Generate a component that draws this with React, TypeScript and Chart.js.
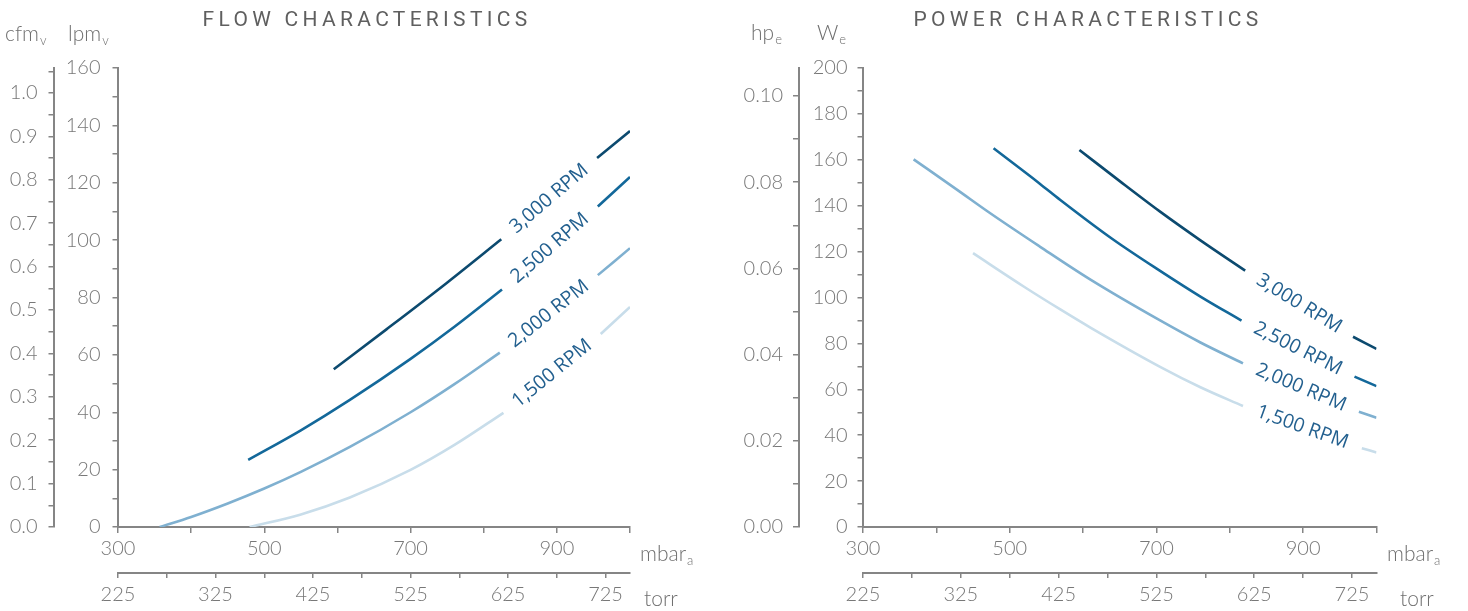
import React, { useEffect, useRef } from 'react';
import { Chart, registerables } from 'chart.js';

Chart.register(...registerables);

// ---------- shared axis data ----------
const MBAR_PER_TORR = 1.33322;
const MBAR_MIN = 300;
const MBAR_MAX = 1000;
const MBAR_TICKS = [300, 400, 500, 600, 700, 800, 900, 1000];
const MBAR_LABELS = [300, 500, 700, 900];
const TORR_TICKS = [225, 275, 325, 375, 425, 475, 525, 575, 625, 675, 725];
const TORR_LABELS = [225, 325, 425, 525, 625, 725];

const RPM_LABELS = ['3,000 RPM', '2,500 RPM', '2,000 RPM', '1,500 RPM'];
const RPM_COLORS = ['#0c4a6f', '#13689a', '#7fb0d0', '#c8ddea'];

// ---------- flow chart ----------
const LPM_TICKS = [0, 10, 20, 30, 40, 50, 60, 70, 80, 90, 100, 110, 120, 130, 140, 150, 160];
const LPM_LABELS = [0, 20, 40, 60, 80, 100, 120, 140, 160];
const CFM_TICKS = [0, 0.05, 0.1, 0.15, 0.2, 0.25, 0.3, 0.35, 0.4, 0.45, 0.5, 0.55, 0.6, 0.65, 0.7, 0.75, 0.8, 0.85, 0.9, 0.95, 1.0, 1.05];
const CFM_LABELS = ['0.0', '0.1', '0.2', '0.3', '0.4', '0.5', '0.6', '0.7', '0.8', '0.9', '1.0'];
const LPM_MAX = 160;
const LPM_PER_CFM_AXIS = 151.3;

const FLOW_MBAR_3000 = [595, 667, 749, 824, 890, 955, 1000];
const FLOW_LPM_3000 = [55, 68.9, 85, 100.3, null, 128.6, 138];
const FLOW_MBAR_2500 = [478, 550, 617, 700, 760, 825, 890, 956, 1000];
const FLOW_LPM_2500 = [23.4, 33.7, 44.3, 58.6, 69.8, 82.8, null, 111.7, 122];
const FLOW_MBAR_2000 = [357, 400, 450, 500, 550, 617, 700, 760, 822, 890, 956, 1000];
const FLOW_LPM_2000 = [0, 3.5, 8.2, 13.4, 19.2, 27.9, 40, 49.8, 60.8, null, 87.8, 97.2];
const FLOW_MBAR_1500 = [480, 549, 617, 700, 760, 827, 890, 960, 1000];
const FLOW_LPM_1500 = [0, 4.3, 10.3, 19.9, 28.6, 39.8, null, 67.3, 76.7];

// ---------- power chart ----------
const W_TICKS = [0, 10, 20, 30, 40, 50, 60, 70, 80, 90, 100, 110, 120, 130, 140, 150, 160, 170, 180, 190, 200];
const W_LABELS = [0, 20, 40, 60, 80, 100, 120, 140, 160, 180, 200];
const HP_TICKS = [0, 0.01, 0.02, 0.03, 0.04, 0.05, 0.06, 0.07, 0.08, 0.09, 0.1];
const HP_LABELS = ['0.00', '0.02', '0.04', '0.06', '0.08', '0.10'];
const W_MAX = 200;
const W_PER_HP_AXIS = 1878;

const POWER_MBAR_3000 = [595, 650, 705, 760, 821, 895, 968, 1000];
const POWER_W_3000 = [164.3, 150.7, 137.4, 124.9, 111.7, null, 82.9, 77.6];
const POWER_MBAR_2500 = [478, 541, 569, 640, 705, 760, 816, 893, 970, 1000];
const POWER_W_2500 = [165, 149.6, 142.5, 125.5, 111.6, 100.4, 89.9, null, 65.5, 61.4];
const POWER_MBAR_2000 = [369, 428, 473, 541, 609, 705, 760, 818, 897, 976, 1000];
const POWER_W_2000 = [160.2, 147, 136.8, 122.2, 108, 90, 80.4, 71.3, null, 50.2, 47.6];
const POWER_MBAR_1500 = [450, 519, 569, 610, 705, 760, 818, 899, 980, 1000];
const POWER_W_1500 = [119.3, 104.8, 94.8, 86.9, 69.8, 60.9, 52.7, null, 34.3, 32.5];

// ---------- styles ----------
const GRAY = '#858585';
const TEXT_GRAY = '#787878';
const LABEL_BLUE = '#23608f';
const TICK_FONT = { family: 'Lato', size: 20, weight: '300' as any };

const pair = (xs: number[], ys: (number | null)[]) => xs.map((x, i) => ({ x, y: ys[i] }));

const rpmLabelPlugin = {
  id: 'rpmLabels',
  afterDatasetsDraw(chart: any) {
    const ctx = chart.ctx;
    chart.data.datasets.forEach((ds: any, di: number) => {
      const gap = ds.data.findIndex((p: any) => p.y === null);
      if (gap < 1) return;
      const meta = chart.getDatasetMeta(di);
      const a = meta.data[gap - 1];
      const b = meta.data[gap + 1];
      const cx = (a.x + b.x) / 2;
      const cy = (a.y + b.y) / 2;
      const ang = Math.atan2(b.y - a.y, b.x - a.x);
      ctx.save();
      ctx.translate(cx, cy);
      ctx.rotate(ang);
      ctx.font = '19.5px "Open Sans"';
      ctx.fillStyle = LABEL_BLUE;
      ctx.textAlign = 'center';
      ctx.textBaseline = 'middle';
      ctx.fillText(ds.label, 0, 0);
      ctx.restore();
    });
  },
};

function makeDatasets(mbars: number[][], vals: (number | null)[][]) {
  return mbars.map((m, i) => ({
    label: RPM_LABELS[i],
    data: pair(m, vals[i]),
    borderColor: RPM_COLORS[i],
    backgroundColor: RPM_COLORS[i],
    borderWidth: 2.6,
    pointRadius: 0,
    cubicInterpolationMode: 'monotone' as const,
    spanGaps: false,
    xAxisID: 'x',
    yAxisID: 'y',
  }));
}

interface PanelOpts {
  datasets: any[];
  yMax: number;
  yTicks: number[];
  yLabels: number[];
  yWidth: number;
  yPad: number;
  y2Max: number;
  y2Ticks: number[];
  y2Labels: string[];
  y2Width: number;
  y2Pad: number;
  padRight: number;
}

function axisLook(tickLength: number) {
  return {
    grid: { drawOnChartArea: false, drawTicks: true, tickLength, color: GRAY, lineWidth: 1.5 },
    border: { display: true, color: GRAY, width: 2 },
  };
}

function buildConfig(o: PanelOpts): any {
  return {
    type: 'line',
    data: { datasets: o.datasets },
    options: {
      animation: false,
      responsive: false,
      events: [],
      layout: { padding: { left: 0, top: 68, right: o.padRight, bottom: 0 } },
      plugins: { legend: { display: false }, tooltip: { enabled: false }, title: { display: false } },
      scales: {
        x: {
          type: 'linear',
          position: 'bottom',
          weight: 0,
          min: MBAR_MIN,
          max: MBAR_MAX,
          afterBuildTicks: (s: any) => { s.ticks = MBAR_TICKS.map((v) => ({ value: v })); },
          afterFit: (s: any) => { s.height = 46; },
          ticks: {
            autoSkip: false,
            maxRotation: 0,
            padding: 4,
            color: TEXT_GRAY,
            font: TICK_FONT,
            callback: (v: number) => (MBAR_LABELS.includes(v) ? String(v) : ''),
          },
          ...axisLook(6),
        },
        x2: {
          type: 'linear',
          axis: 'x',
          position: 'bottom',
          weight: 1,
          min: MBAR_MIN / MBAR_PER_TORR,
          max: MBAR_MAX / MBAR_PER_TORR,
          afterBuildTicks: (s: any) => { s.ticks = TORR_TICKS.map((v) => ({ value: v })); },
          afterFit: (s: any) => { s.height = 38; },
          ticks: {
            autoSkip: false,
            maxRotation: 0,
            padding: 5,
            color: TEXT_GRAY,
            font: TICK_FONT,
            callback: (v: number) => (TORR_LABELS.includes(v) ? String(v) : ''),
          },
          ...axisLook(5),
        },
        y: {
          type: 'linear',
          position: 'left',
          weight: 0,
          min: 0,
          max: o.yMax,
          afterBuildTicks: (s: any) => { s.ticks = o.yTicks.map((v) => ({ value: v })); },
          afterFit: (s: any) => { s.width = o.yWidth; },
          ticks: {
            autoSkip: false,
            padding: o.yPad,
            color: TEXT_GRAY,
            font: TICK_FONT,
            callback: (v: number) => (o.yLabels.includes(v) ? String(v) : ''),
          },
          ...axisLook(5.5),
        },
        y2: {
          type: 'linear',
          axis: 'y',
          position: 'left',
          weight: 1,
          min: 0,
          max: o.y2Max,
          afterBuildTicks: (s: any) => { s.ticks = o.y2Ticks.map((v) => ({ value: v })); },
          afterFit: (s: any) => { s.width = o.y2Width; },
          ticks: {
            autoSkip: false,
            padding: o.y2Pad,
            color: TEXT_GRAY,
            font: TICK_FONT,
            callback: (_v: number, i: number) => (i % 2 === 0 ? o.y2Labels[i / 2] : ''),
          },
          ...axisLook(5.5),
        },
      },
    },
    plugins: [rpmLabelPlugin],
  };
}

const unitStyle: React.CSSProperties = {
  position: 'absolute',
  fontFamily: 'Lato',
  fontWeight: 300,
  fontSize: 21,
  lineHeight: '21px',
  color: '#6f6f6f',
  whiteSpace: 'nowrap',
};
const subStyle: React.CSSProperties = { fontSize: 13, position: 'relative', top: 4, marginLeft: 1 };

function Unit({ main, sub, left, baseline }: { main: string; sub?: string; left: number; baseline: number }) {
  return (
    <div style={{ ...unitStyle, left, top: baseline - 16.5 }}>
      {main}
      {sub ? <span style={subStyle}>{sub}</span> : null}
    </div>
  );
}

const titleStyle: React.CSSProperties = {
  position: 'absolute',
  top: 9,
  width: 500,
  textAlign: 'center',
  fontFamily: 'Roboto',
  fontWeight: 400,
  fontSize: 21,
  lineHeight: '21px',
  letterSpacing: 4.3,
  color: '#5f5f5f',
  whiteSpace: 'nowrap',
};

export default function App() {
  const leftRef = useRef<HTMLCanvasElement>(null);
  const rightRef = useRef<HTMLCanvasElement>(null);

  useEffect(() => {
    document.body.style.margin = '0';
    const flow = new Chart(
      leftRef.current as HTMLCanvasElement,
      buildConfig({
        datasets: makeDatasets(
          [FLOW_MBAR_3000, FLOW_MBAR_2500, FLOW_MBAR_2000, FLOW_MBAR_1500],
          [FLOW_LPM_3000, FLOW_LPM_2500, FLOW_LPM_2000, FLOW_LPM_1500]
        ),
        yMax: LPM_MAX,
        yTicks: LPM_TICKS,
        yLabels: LPM_LABELS,
        yWidth: 64,
        yPad: 12,
        y2Max: LPM_MAX / LPM_PER_CFM_AXIS,
        y2Ticks: CFM_TICKS,
        y2Labels: CFM_LABELS,
        y2Width: 54,
        y2Pad: 11,
        padRight: 104,
      })
    );
    const power = new Chart(
      rightRef.current as HTMLCanvasElement,
      buildConfig({
        datasets: makeDatasets(
          [POWER_MBAR_3000, POWER_MBAR_2500, POWER_MBAR_2000, POWER_MBAR_1500],
          [POWER_W_3000, POWER_W_2500, POWER_W_2000, POWER_W_1500]
        ),
        yMax: W_MAX,
        yTicks: W_TICKS,
        yLabels: W_LABELS,
        yWidth: 64.5,
        yPad: 10,
        y2Max: W_MAX / W_PER_HP_AXIS,
        y2Ticks: HP_TICKS,
        y2Labels: HP_LABELS,
        y2Width: 64.5,
        y2Pad: 10,
        padRight: 91.5,
      })
    );
    return () => {
      flow.destroy();
      power.destroy();
    };
  }, []);

  return (
    <div style={{ position: 'relative', width: 1468, height: 611, overflow: 'hidden', background: '#fff' }}>
      <canvas ref={leftRef} width={734} height={611} style={{ position: 'absolute', left: 0, top: 0, width: 734, height: 611 }} />
      <canvas ref={rightRef} width={734} height={611} style={{ position: 'absolute', left: 734, top: 0, width: 734, height: 611 }} />

      <div style={{ ...titleStyle, left: 367 - 250 }}>FLOW CHARACTERISTICS</div>
      <div style={{ ...titleStyle, left: 1088 - 250 }}>POWER CHARACTERISTICS</div>

      <Unit main="cfm" sub="v" left={5} baseline={38} />
      <Unit main="lpm" sub="v" left={68} baseline={38} />
      <Unit main="hp" sub="e" left={751} baseline={37} />
      <Unit main="W" sub="e" left={817} baseline={37} />

      <Unit main="mbar" sub="a" left={640} baseline={558} />
      <Unit main="torr" left={644} baseline={603} />
      <Unit main="mbar" sub="a" left={1387} baseline={558} />
      <Unit main="torr" left={1400} baseline={603} />
    </div>
  );
}
